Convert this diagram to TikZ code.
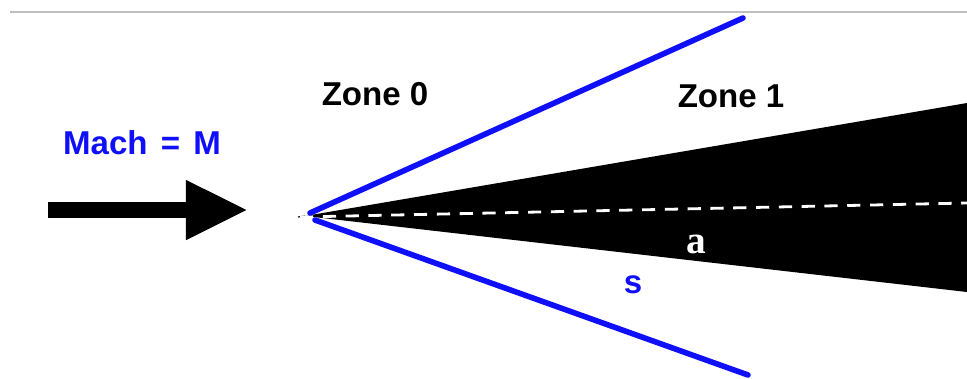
\documentclass[tikz,border=0pt]{standalone}
\usepackage{fontspec}
\setmainfont{Liberation Sans}
\newfontfamily\serifletter{Liberation Serif}
\usepackage{tikz}
\usetikzlibrary{arrows.meta}
\definecolor{shockblue}{RGB}{15,15,250}
\definecolor{rulegray}{RGB}{190,190,190}
\tikzset{
  zonelabel/.style={inner sep=0pt,font=\fontsize{23.5}{26}\selectfont\bfseries},
  machlabel/.style={inner sep=0pt,text=shockblue,font=\fontsize{23.5}{26}\selectfont\bfseries},
  anglelabel/.style={inner sep=0pt,text=white,font=\fontsize{28}{30}\selectfont\serifletter\bfseries},
  shock/.style={draw=shockblue,line width=0.14cm,line cap=round},
  axisline/.style={draw=white,line width=0.07cm,dash pattern=on 0.33cm off 0.24cm},
  flowarrow/.style={line width=0.42cm,-{Triangle[length=1.55cm,width=1.38cm]}}
}
\begin{document}
\begin{tikzpicture}[x=0.025cm,y=-0.025cm]
  \useasboundingbox (0,0) rectangle (967,378);
  % frame line at the top
  \draw[rulegray,line width=0.05cm] (10,12) -- (967,12);
  % wedge
  \coordinate (apex) at (305,216);
  \fill[black] (apex) -- (967,103) -- (967,292) -- cycle;
  \draw[black,line width=0.03cm] (298,217) -- (apex);
  \draw[axisline] (300,217) -- (967,203);
  % oblique shocks
  \draw[shock] (310,213) -- (743,18);
  \draw[shock] (315,220) -- (748,375);
  % free stream
  \draw[flowarrow] (48,210) -- (248,210);
  \node[machlabel] (mach) at (142,143) {Mach\hspace{0.4em}=\hspace{0.4em}M};
  \node[zonelabel] (zone0) at (375,94) {Zone 0};
  \node[zonelabel] (zone1) at (731,96) {Zone 1};
  \node[anglelabel] (alpha) at (696,244) {a};
  \node[machlabel] (sigma) at (633,285) {s};
\end{tikzpicture}
\end{document}
